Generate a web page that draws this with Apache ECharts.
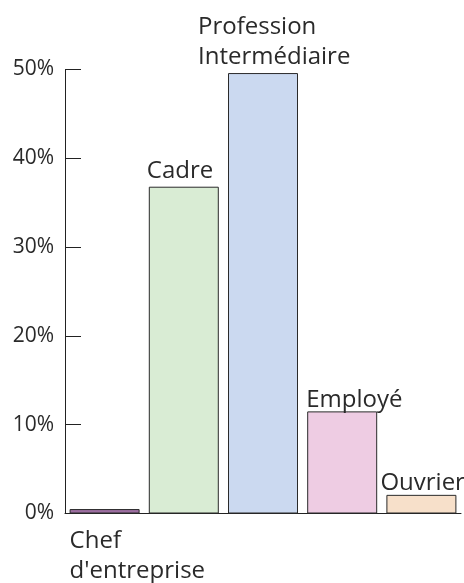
<!DOCTYPE html>
<html>
<head>
<meta charset="utf-8">
<script src="https://cdn.jsdelivr.net/npm/echarts@6/dist/echarts.min.js"></script>
<style>
  html, body { margin: 0; padding: 0; background: #fff; }
  #chart { width: 464px; height: 583px; }
</style>
</head>
<body>
<div id="chart"></div>
<script>
// catégories socio-professionnelles
var categories = ['Chef\nd\'entreprise', 'Cadre', 'Profession\nIntermédiaire', 'Employé', 'Ouvrier'];
var values = [0.5, 36.8, 49.6, 11.5, 2.1];
var yTicks = [0, 10, 20, 30, 40, 50];

var barColors = ['#9c6ea0', '#d9ecd4', '#cbd9f0', '#eecce3', '#f7e0ca'];
// position du libellé par rapport au coin haut-gauche de la barre
var labelPos = [[0, 17], [-2, -1], [-30, -1], [-1, 4], [-6, 3]];
var labelVAlign = ['top', 'bottom', 'bottom', 'bottom', 'bottom'];

var myChart = echarts.init(document.getElementById('chart'));

myChart.setOption({
    animation: false,
    grid: {
        left: 65,
        width: 396,
        top: 69.5,
        bottom: 69.5
    },
    xAxis: {
        type: 'category',
        data: categories,
        axisLine: { lineStyle: { color: '#222', width: 1 } },
        axisTick: { show: false },
        axisLabel: { show: false }
    },
    yAxis: {
        type: 'value',
        min: yTicks[0],
        max: yTicks[yTicks.length - 1],
        interval: 10,
        splitLine: { show: false },
        axisLine: { show: true, lineStyle: { color: '#222', width: 1 } },
        axisTick: { show: true, inside: true, length: 16, lineStyle: { color: '#222' } },
        axisLabel: {
            margin: 11,
            color: '#2a2a2a',
            fontFamily: 'Open Sans',
            fontSize: 21,
            formatter: '{value}%'
        }
    },
    series: [{
        type: 'bar',
        barWidth: 70,
        data: values.map(function (v, i) {
            return {
                value: v,
                itemStyle: { color: barColors[i] },
                label: { position: labelPos[i], verticalAlign: labelVAlign[i] }
            };
        }),
        itemStyle: { borderColor: '#2a2a2a', borderWidth: 1 },
        label: {
            show: true,
            align: 'left',
            color: '#2a2a2a',
            fontFamily: 'Open Sans',
            fontSize: 24,
            lineHeight: 30,
            formatter: function (p) { return categories[p.dataIndex]; }
        }
    }]
});
</script>
</body>
</html>
